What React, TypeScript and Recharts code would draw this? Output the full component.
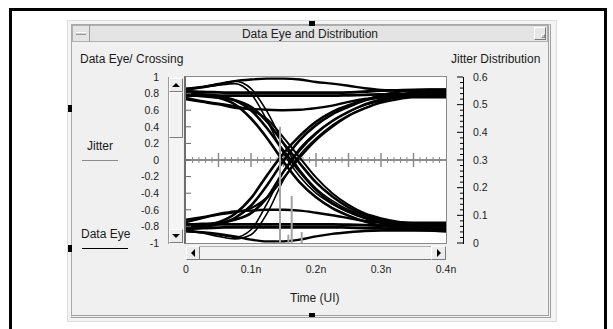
import React from 'react';
import { ComposedChart, Line, XAxis, YAxis, ReferenceLine } from 'recharts';

const FONT = '"Liberation Sans", Arial, Helvetica, sans-serif';

// sample times (ns) of the eye traces
const timeNs = [0, 0.025, 0.05, 0.075, 0.1, 0.125, 0.15, 0.175, 0.2, 0.225, 0.25, 0.275, 0.3, 0.325, 0.35, 0.375, 0.4];

// traces that stay high
const hiUpper = [0.86, 0.88, 0.91, 0.95, 0.97, 0.98, 0.98, 0.97, 0.94, 0.92, 0.895, 0.865, 0.845, 0.84, 0.835, 0.835, 0.835];
const hiMidA = [0.83, 0.82, 0.815, 0.81, 0.81, 0.81, 0.81, 0.81, 0.81, 0.81, 0.815, 0.825, 0.835, 0.84, 0.845, 0.845, 0.845];
const hiMidB = [0.78, 0.775, 0.775, 0.775, 0.775, 0.775, 0.775, 0.775, 0.775, 0.775, 0.78, 0.785, 0.79, 0.79, 0.79, 0.79, 0.79];
const hiLower = [0.73, 0.7, 0.67, 0.63, 0.615, 0.605, 0.6, 0.605, 0.625, 0.655, 0.7, 0.735, 0.75, 0.755, 0.755, 0.755, 0.755];

// falling edges
const fallA = [0.84, 0.87, 0.9, 0.92, 0.8, 0.47, 0.08, -0.2, -0.4, -0.53, -0.63, -0.7, -0.74, -0.77, -0.78, -0.78, -0.78];
const fallB = [0.86, 0.88, 0.92, 0.95, 0.86, 0.58, 0.2, -0.12, -0.34, -0.49, -0.6, -0.68, -0.74, -0.78, -0.81, -0.82, -0.82];
const fallC = [0.8, 0.79, 0.75, 0.67, 0.5, 0.26, -0.02, -0.27, -0.45, -0.58, -0.67, -0.74, -0.79, -0.82, -0.84, -0.85, -0.86];
const fallD = [0.8, 0.79, 0.77, 0.72, 0.6, 0.38, 0.11, -0.14, -0.36, -0.52, -0.62, -0.7, -0.76, -0.8, -0.82, -0.83, -0.84];
const fallE = [0.78, 0.77, 0.75, 0.72, 0.64, 0.46, 0.2, -0.04, -0.27, -0.44, -0.57, -0.66, -0.72, -0.76, -0.79, -0.8, -0.8];
const fallF = [0.75, 0.71, 0.68, 0.65, 0.6, 0.49, 0.27, 0.03, -0.21, -0.4, -0.54, -0.64, -0.7, -0.74, -0.76, -0.77, -0.77];

// rising edges
const riseA = [-0.84, -0.87, -0.9, -0.93, -0.84, -0.52, -0.14, 0.14, 0.33, 0.47, 0.58, 0.66, 0.71, 0.75, 0.77, 0.78, 0.78];
const riseB = [-0.8, -0.79, -0.75, -0.65, -0.46, -0.18, 0.08, 0.29, 0.46, 0.58, 0.66, 0.72, 0.76, 0.79, 0.81, 0.82, 0.82];
const riseC = [-0.8, -0.8, -0.77, -0.7, -0.55, -0.3, -0.01, 0.24, 0.42, 0.55, 0.64, 0.72, 0.78, 0.82, 0.84, 0.85, 0.85];
const riseD = [-0.78, -0.77, -0.76, -0.72, -0.64, -0.45, -0.14, 0.12, 0.32, 0.47, 0.58, 0.67, 0.73, 0.77, 0.79, 0.8, 0.8];
const riseE = [-0.75, -0.7, -0.66, -0.63, -0.58, -0.45, -0.22, 0.03, 0.24, 0.4, 0.53, 0.62, 0.69, 0.73, 0.76, 0.77, 0.77];
const riseF = [-0.86, -0.88, -0.92, -0.95, -0.9, -0.64, -0.24, 0.06, 0.26, 0.42, 0.54, 0.63, 0.7, 0.76, 0.79, 0.81, 0.81];

// traces that stay low
const loLower = [-0.86, -0.87, -0.89, -0.92, -0.96, -0.98, -0.98, -0.96, -0.92, -0.89, -0.87, -0.855, -0.85, -0.85, -0.85, -0.85, -0.85];
const loMidA = [-0.83, -0.82, -0.815, -0.81, -0.81, -0.81, -0.81, -0.81, -0.81, -0.81, -0.815, -0.82, -0.825, -0.83, -0.83, -0.83, -0.83];
const loMidB = [-0.775, -0.775, -0.775, -0.775, -0.775, -0.775, -0.775, -0.775, -0.775, -0.775, -0.78, -0.785, -0.79, -0.79, -0.79, -0.79, -0.79];
const loUpper = [-0.72, -0.69, -0.65, -0.62, -0.61, -0.6, -0.6, -0.61, -0.635, -0.665, -0.7, -0.735, -0.75, -0.755, -0.755, -0.755, -0.755];

// jitter distribution (histogram)
const jitterTime = [0.1446, 0.1575, 0.1626, 0.178];
const jitterValue = [0.42, 0.03, 0.17, 0.04];

const timeTicks = [0, 0.1, 0.2, 0.3, 0.4];
const eyeTicks = [1, 0.8, 0.6, 0.4, 0.2, 0, -0.2, -0.4, -0.6, -0.8, -1];

const traces = [
  { key: 'hiUpper', values: hiUpper, w: 2.4 },
  { key: 'hiMidA', values: hiMidA, w: 2.8 },
  { key: 'hiMidB', values: hiMidB, w: 2.8 },
  { key: 'hiLower', values: hiLower, w: 2.4 },
  { key: 'loLower', values: loLower, w: 2.4 },
  { key: 'loMidA', values: loMidA, w: 2.8 },
  { key: 'loMidB', values: loMidB, w: 2.8 },
  { key: 'loUpper', values: loUpper, w: 2.4 },
  { key: 'fallA', values: fallA, w: 1.6 },
  { key: 'fallB', values: fallB, w: 1.6 },
  { key: 'fallC', values: fallC, w: 2.6 },
  { key: 'fallD', values: fallD, w: 2.6 },
  { key: 'fallE', values: fallE, w: 2.6 },
  { key: 'fallF', values: fallF, w: 2 },
  { key: 'riseA', values: riseA, w: 1.6 },
  { key: 'riseB', values: riseB, w: 2.6 },
  { key: 'riseC', values: riseC, w: 2.6 },
  { key: 'riseD', values: riseD, w: 2.6 },
  { key: 'riseE', values: riseE, w: 2.2 },
  { key: 'riseF', values: riseF, w: 1.6 },
];

const eyeRows = timeNs.map((t, i) => {
  const row: Record<string, number> = { t };
  traces.forEach((tr) => {
    row[tr.key] = tr.values[i];
  });
  return row;
});

// little ticks along the zero line, every 0.01n
const zeroTicks = Array.from({ length: 39 }, (_, i) => (i + 1) / 100);
// right axis ticks, every 0.02 (labels on every 0.1)
const jitterAllTicks = Array.from({ length: 31 }, (_, i) => (i * 2) / 100);

const abs = (l: number, t: number, w: number, h: number, extra: React.CSSProperties = {}): React.CSSProperties => ({
  position: 'absolute',
  left: l,
  top: t,
  width: w,
  height: h,
  boxSizing: 'border-box',
  ...extra,
});

const raised: React.CSSProperties = {
  background: '#ececec',
  borderTop: '1px solid #ffffff',
  borderLeft: '1px solid #ffffff',
  borderRight: '1px solid #7a7a7a',
  borderBottom: '1px solid #7a7a7a',
};

const Arrow = ({ dir }: { dir: 'up' | 'down' | 'left' | 'right' }) => {
  const s: React.CSSProperties = { width: 0, height: 0, position: 'absolute', left: '50%', top: '50%' };
  if (dir === 'up') Object.assign(s, { borderLeft: '4px solid transparent', borderRight: '4px solid transparent', borderBottom: '4px solid #000', marginLeft: -4, marginTop: -2 });
  if (dir === 'down') Object.assign(s, { borderLeft: '4px solid transparent', borderRight: '4px solid transparent', borderTop: '4px solid #000', marginLeft: -4, marginTop: -2 });
  if (dir === 'left') Object.assign(s, { borderTop: '4px solid transparent', borderBottom: '4px solid transparent', borderRight: '4px solid #000', marginLeft: -2, marginTop: -4 });
  if (dir === 'right') Object.assign(s, { borderTop: '4px solid transparent', borderBottom: '4px solid transparent', borderLeft: '4px solid #000', marginLeft: -2, marginTop: -4 });
  return <div style={s} />;
};

const LeftTick = (props: any) => {
  const { x, y, payload } = props;
  const v = payload.value;
  return (
    <g>
      <text x={x} y={y} dy="0.355em" textAnchor="end" fontSize={10.5} fontFamily={FONT} fill="#222">
        {String(v)}
      </text>
      {Math.abs(v) < 1 && <line x1={x + 27} x2={x + 32} y1={y} y2={y} stroke="#666" />}
    </g>
  );
};

const RightTick = (props: any) => {
  const { x, y, payload } = props;
  const v = payload.value;
  const major = Math.round(v * 100) % 10 === 0;
  return (
    <g>
      <line x1={major ? x - 16 : x - 13} x2={x - 10} y1={y} y2={y} stroke="#000" />
      {major && (
        <text x={x} y={y} dy="0.355em" textAnchor="start" fontSize={10.5} fontFamily={FONT} fill="#222">
          {String(v)}
        </text>
      )}
    </g>
  );
};

const label = (text: string, l: number, t: number, size = 12): React.ReactNode => (
  <div style={{ position: 'absolute', left: l, top: t, fontSize: size, fontFamily: FONT, color: '#1a1a1a', whiteSpace: 'nowrap', lineHeight: '14px' }}>
    {text}
  </div>
);

export default function App() {
  return (
    <div style={abs(0, 0, 613, 329, { background: '#ffffff', overflow: 'hidden' })}>
      {/* outer selection frame */}
      <div style={abs(9, 8, 598, 340, { borderLeft: '3px solid #000', borderTop: '3px solid #000', borderRight: '3px solid #000' })} />

      {/* window */}
      <div style={abs(67, 20, 490, 302, { background: '#f3f3f3', border: '1px solid #dcdcdc' })} />
      <div style={abs(71, 24, 480, 294, { background: '#f0f0f0', borderLeft: '1px solid #a8a8a8', borderTop: '1px solid #a8a8a8', borderRight: '3px double #a0a0a0', borderBottom: '3px double #a0a0a0' })} />

      {/* title bar */}
      <div style={abs(72, 25, 476, 17, { background: '#e4e4e4', border: '1px solid #b0b0b0' })} />
      <div style={abs(72, 25, 18, 17, { borderRight: '1px solid #a0a0a0' })}>
        <div style={abs(4, 7, 10, 3, { background: '#d0d0d0', borderTop: '1px solid #fff', borderBottom: '1px solid #999' })} />
      </div>
      <div style={abs(534, 27, 12, 13, { ...raised, background: '#e8e8e8' })}>
        <div style={abs(6, 6, 4, 4, { background: '#c8c8c8', borderTop: '1px solid #fff', borderLeft: '1px solid #fff', borderRight: '1px solid #888', borderBottom: '1px solid #888' })} />
      </div>
      <div style={{ position: 'absolute', left: 72, top: 27, width: 476, textAlign: 'center', fontSize: 12, fontFamily: FONT, color: '#222', lineHeight: '14px' }}>
        Data Eye and Distribution
      </div>

      {/* selection handles */}
      <div style={abs(309, 21, 6, 5, { background: '#000' })} />
      <div style={abs(309, 313, 6, 4, { background: '#000' })} />
      <div style={abs(68, 105, 4, 7, { background: '#000' })} />
      <div style={abs(68, 245, 4, 7, { background: '#000' })} />

      {/* labels */}
      {label('Data Eye/ Crossing', 80, 52)}
      {label('Jitter Distribution', 451, 52)}
      {label('Jitter', 87, 139)}
      <div style={abs(82, 160, 36, 1, { background: '#8a8a8a' })} />
      {label('Data Eye', 81, 227)}
      <div style={abs(82, 248, 46, 1, { background: '#000' })} />
      {label('Time (UI)', 290, 291)}

      {/* plot box */}
      <div style={abs(184, 76, 263, 168, { background: '#ffffff', borderLeft: '2px solid #6e6e6e', borderTop: '1px solid #8a8a8a', borderRight: '1px solid #8a8a8a', borderBottom: '1px solid #8a8a8a' })} />

      {/* jitter distribution axis spine */}
      <div style={abs(463, 77, 1, 167, { background: '#000' })} />

      {/* vertical scrollbar */}
      <div style={abs(168, 77, 15, 167, { background: '#f4f4f4', borderLeft: '1px solid #9a9a9a' })} />
      <div style={abs(169, 78, 14, 14, raised)}>
        <Arrow dir="up" />
      </div>
      <div style={abs(169, 92, 14, 46, { ...raised, background: '#f2f2f2' })} />
      <div style={abs(169, 229, 14, 14, raised)}>
        <Arrow dir="down" />
      </div>

      {/* horizontal scrollbar */}
      <div style={abs(186, 246, 260, 14, { ...raised, background: '#f2f2f2', borderTop: '1px solid #b0b0b0' })} />
      <div style={abs(186, 246, 14, 14, raised)}>
        <Arrow dir="left" />
      </div>
      <div style={abs(431, 246, 15, 14, raised)}>
        <Arrow dir="right" />
      </div>

      {/* eye diagram */}
      <div style={abs(0, 0, 613, 329)}>
        <ComposedChart width={613} height={329} data={eyeRows} margin={{ top: 77, right: 127, bottom: 46, left: 126 }}>
          <XAxis
            dataKey="t"
            type="number"
            domain={[0, 0.4]}
            ticks={timeTicks}
            interval={0}
            allowDataOverflow
            axisLine={false}
            tickLine={false}
            tickSize={0}
            tickMargin={23}
            height={40}
            tick={{ fontSize: 10.5, fill: '#222', fontFamily: FONT }}
            tickFormatter={(v: number) => (v === 0 ? '0' : `${v}n`)}
          />
          <YAxis
            yAxisId="eye"
            domain={[-1, 1]}
            ticks={eyeTicks}
            interval={0}
            allowDataOverflow
            width={60}
            axisLine={false}
            tickLine={false}
            tickSize={0}
            tickMargin={27}
            tick={LeftTick}
          />
          <YAxis
            yAxisId="jit"
            orientation="right"
            domain={[0, 0.6]}
            ticks={jitterAllTicks}
            interval={0}
            allowDataOverflow
            width={40}
            axisLine={false}
            tickLine={false}
            tickSize={0}
            tickMargin={27}
            tick={RightTick}
          />

          <ReferenceLine yAxisId="eye" y={0} stroke="#8c8c8c" strokeWidth={2} />
          {zeroTicks.map((t) => {
            const major = Math.round(t * 100) % 5 === 0;
            const h = major ? 0.085 : 0.036;
            return (
              <ReferenceLine
                key={`zt${t}`}
                yAxisId="eye"
                segment={[{ x: t, y: -h }, { x: t, y: h }]}
                stroke="#8c8c8c"
                strokeWidth={major ? 1.5 : 1}
              />
            );
          })}

          {traces.map((tr) => (
            <Line
              key={tr.key}
              yAxisId="eye"
              dataKey={tr.key}
              type="monotone"
              stroke="#000"
              strokeWidth={tr.w}
              dot={false}
              activeDot={false}
              isAnimationActive={false}
            />
          ))}

          {jitterTime.map((t, i) => (
            <ReferenceLine
              key={`jh${i}`}
              yAxisId="jit"
              segment={[{ x: t, y: 0 }, { x: t, y: jitterValue[i] }]}
              stroke="#a4a4a4"
              strokeWidth={2}
            />
          ))}
        </ComposedChart>
      </div>
    </div>
  );
}
